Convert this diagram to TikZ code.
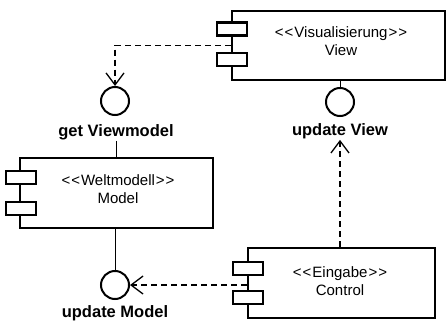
\documentclass[tikz,border=0pt]{standalone}
\usepackage{fontspec}
\setmainfont{Liberation Sans}
\usetikzlibrary{arrows.meta}
\newcommand{\stl}{{<}\kern1pt{<}\kern1pt}
\newcommand{\stg}{\kern1pt{>}\kern1pt{>}}
\begin{document}
\begin{tikzpicture}[x=1pt,y=-1pt,
  compbox/.style={draw, line width=2.4pt, fill=white, minimum width=#1, inner sep=0pt},
  portbox/.style={draw, line width=2.4pt, fill=white, minimum width=30pt, minimum height=13pt, inner sep=0pt},
  lolli/.style={draw, circle, line width=2pt, minimum size=28pt, inner sep=0pt},
  stereo/.style={font=\fontsize{15}{17}\selectfont, align=center, inner sep=0pt},
  iflabel/.style={font=\fontsize{16.5}{18}\selectfont\bfseries, inner sep=1pt},
  stem/.style={line width=1pt},
  dep/.style={line width=1.3pt, dash pattern=on 6pt off 4pt, -{Straight Barb[length=12pt,width=18pt,line width=1.3pt]}}
]
\useasboundingbox (0,0) rectangle (446,323);
% View component
\node[compbox=213pt, minimum height=69pt] (view) at (338.5,45.5) {};
\node[portbox] (vp1) at (232,29) {};
\node[portbox] (vp2) at (232,59.5) {};
\node[stereo] (viewtxt) at (341,41.5) {\stl Visualisierung\stg\\[1pt]View};
% Model component
\node[compbox=193pt, minimum height=70pt] (model) at (116.5,193) {};
\node[portbox] (mp1) at (21,177.5) {};
\node[portbox] (mp2) at (21,208.5) {};
\node[stereo] (modeltxt) at (118,189.5) {\stl Weltmodell\stg\\[1pt]Model};
% Control component
\node[compbox=187pt, minimum height=70pt] (control) at (341.5,283) {};
\node[portbox] (cp1) at (248,268.5) {};
\node[portbox] (cp2) at (248,297.5) {};
\node[stereo] (controltxt) at (340,281) {\stl Eingabe\stg\\[1pt]Control};
% interfaces
\node[lolli] (gvm) at (115,101) {};
\node[iflabel] (gvmtxt) at (116,132) {get Viewmodel};
\node[lolli] (uv) at (340,102) {};
\node[iflabel] (uvtxt) at (340,131) {update View};
\node[lolli] (um) at (115,285) {};
\node[iflabel] (umtxt) at (115,313) {update Model};
% stems
\draw[stem] (uv.north) -- (uv.north |- view.south);
\draw[stem] (gvmtxt.south) -- (gvmtxt.south |- model.north);
\draw[stem] (um.north) -- (um.north |- model.south);
% dependencies
\draw[dep] (view.west) -| (gvm.north);
\draw[dep] (um.east -| control.west) -- (um.east);
\draw[dep] (uvtxt.south |- control.north) -- (uvtxt.south);
\end{tikzpicture}
\end{document}
